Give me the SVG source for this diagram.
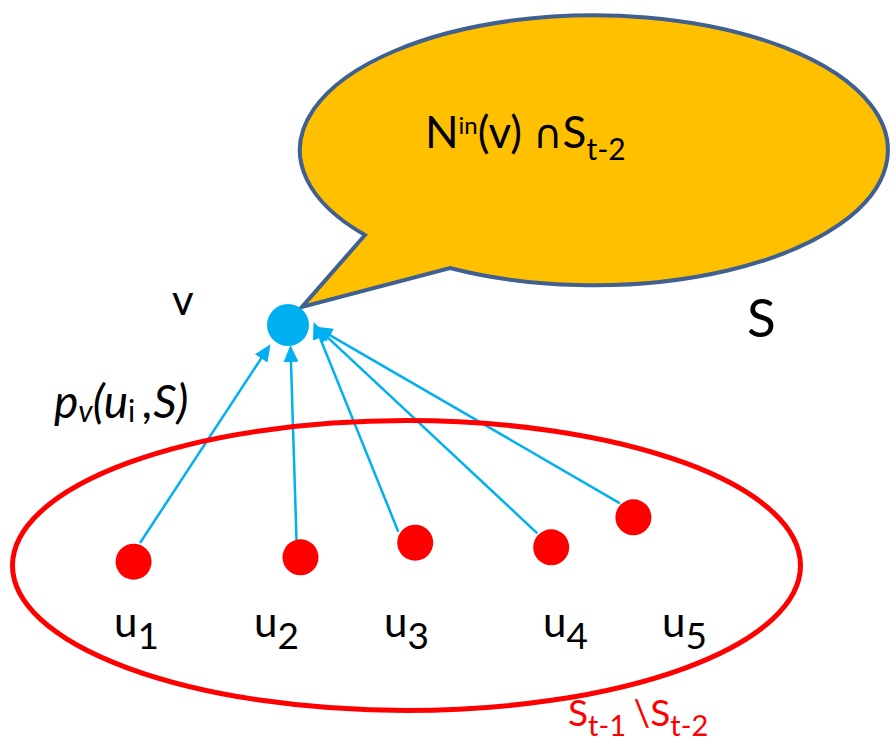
<svg xmlns="http://www.w3.org/2000/svg" width="896" height="744" viewBox="0 0 896 744">
<style>
text { font-family: Lato, "Open Sans", "Liberation Sans", sans-serif; fill: #000; }
.red { fill: #FF0000; }
.edge { stroke: #00B0F0; stroke-width: 2.5; fill: none; marker-end: url(#ah); }
.unode { fill: #FF0000; }
</style>
<defs>
<marker id="ah" viewBox="0 0 17 15" refX="6" refY="7.5" markerWidth="17" markerHeight="15" markerUnits="userSpaceOnUse" orient="auto">
<path d="M0,0 L17,7.5 L0,15 Z" fill="#00B0F0"/>
</marker>
</defs>
<rect width="896" height="744" fill="#fff"/>

<g id="bubble">
<path d="M365,235 L302,307 L450,268 A294,135 0 1 0 365,235 Z" fill="#FFC000" stroke="#3F6090" stroke-width="4" stroke-linejoin="miter"/>
<text font-size="44" y="148" x="425">N<tspan font-size="24" dy="-14">in</tspan><tspan font-size="44" dy="14">(v) </tspan><tspan font-size="40" font-family="'DejaVu Sans', sans-serif">∩</tspan><tspan font-size="44">S</tspan><tspan font-size="30" dy="12">t-2</tspan></text>
</g>

<g id="connectors">
<line class="edge" x1="140" y1="543" x2="264.5" y2="353.4"/>
<line class="edge" x1="296.5" y1="540" x2="290.8" y2="356"/>
<line class="edge" x1="398.3" y1="531.7" x2="317.7" y2="332.3"/>
<line class="edge" x1="537.3" y1="533.3" x2="323.3" y2="333.3"/>
<line class="edge" x1="620" y1="503.3" x2="325" y2="332.3"/>
</g>

<g id="set-region">
<ellipse cx="406.5" cy="565.5" rx="394" ry="145" fill="none" stroke="#FF0000" stroke-width="5"/>
<text class="red" font-size="37" y="726" x="568">S<tspan font-size="29" dy="10">t-1 </tspan><tspan font-size="37" dy="-10">\S</tspan><tspan font-size="29" dy="10">t-2</tspan></text>
</g>

<g id="node-v">
<circle cx="288" cy="325" r="21" fill="#00B0F0"/>
<text x="172" y="315" font-size="42">v</text>
</g>

<g id="label-S">
<text x="747" y="337" font-size="53">S</text>
</g>

<g id="label-p">
<text x="54" y="418" font-style="italic" font-size="46">p<tspan font-size="30" dy="4">v</tspan><tspan dy="-4">(u</tspan><tspan font-style="normal" font-size="30" dy="4">i </tspan><tspan dy="-4">,S)</tspan></text>
</g>

<g id="node-u1">
<circle class="unode" cx="133.6" cy="561.7" r="18"/>
<text x="114" y="637" font-size="42">u<tspan font-size="37" dy="12">1</tspan></text>
</g>
<g id="node-u2">
<circle class="unode" cx="300.5" cy="557.3" r="18"/>
<text x="254" y="637" font-size="42">u<tspan font-size="37" dy="12">2</tspan></text>
</g>
<g id="node-u3">
<circle class="unode" cx="415.2" cy="542.7" r="18"/>
<text x="384" y="637" font-size="42">u<tspan font-size="37" dy="12">3</tspan></text>
</g>
<g id="node-u4">
<circle class="unode" cx="551.2" cy="547.3" r="18"/>
<text x="543" y="637" font-size="42">u<tspan font-size="37" dy="12">4</tspan></text>
</g>
<g id="node-u5">
<circle class="unode" cx="633.4" cy="517.3" r="18"/>
<text x="662" y="637" font-size="42">u<tspan font-size="37" dy="12">5</tspan></text>
</g>
</svg>
